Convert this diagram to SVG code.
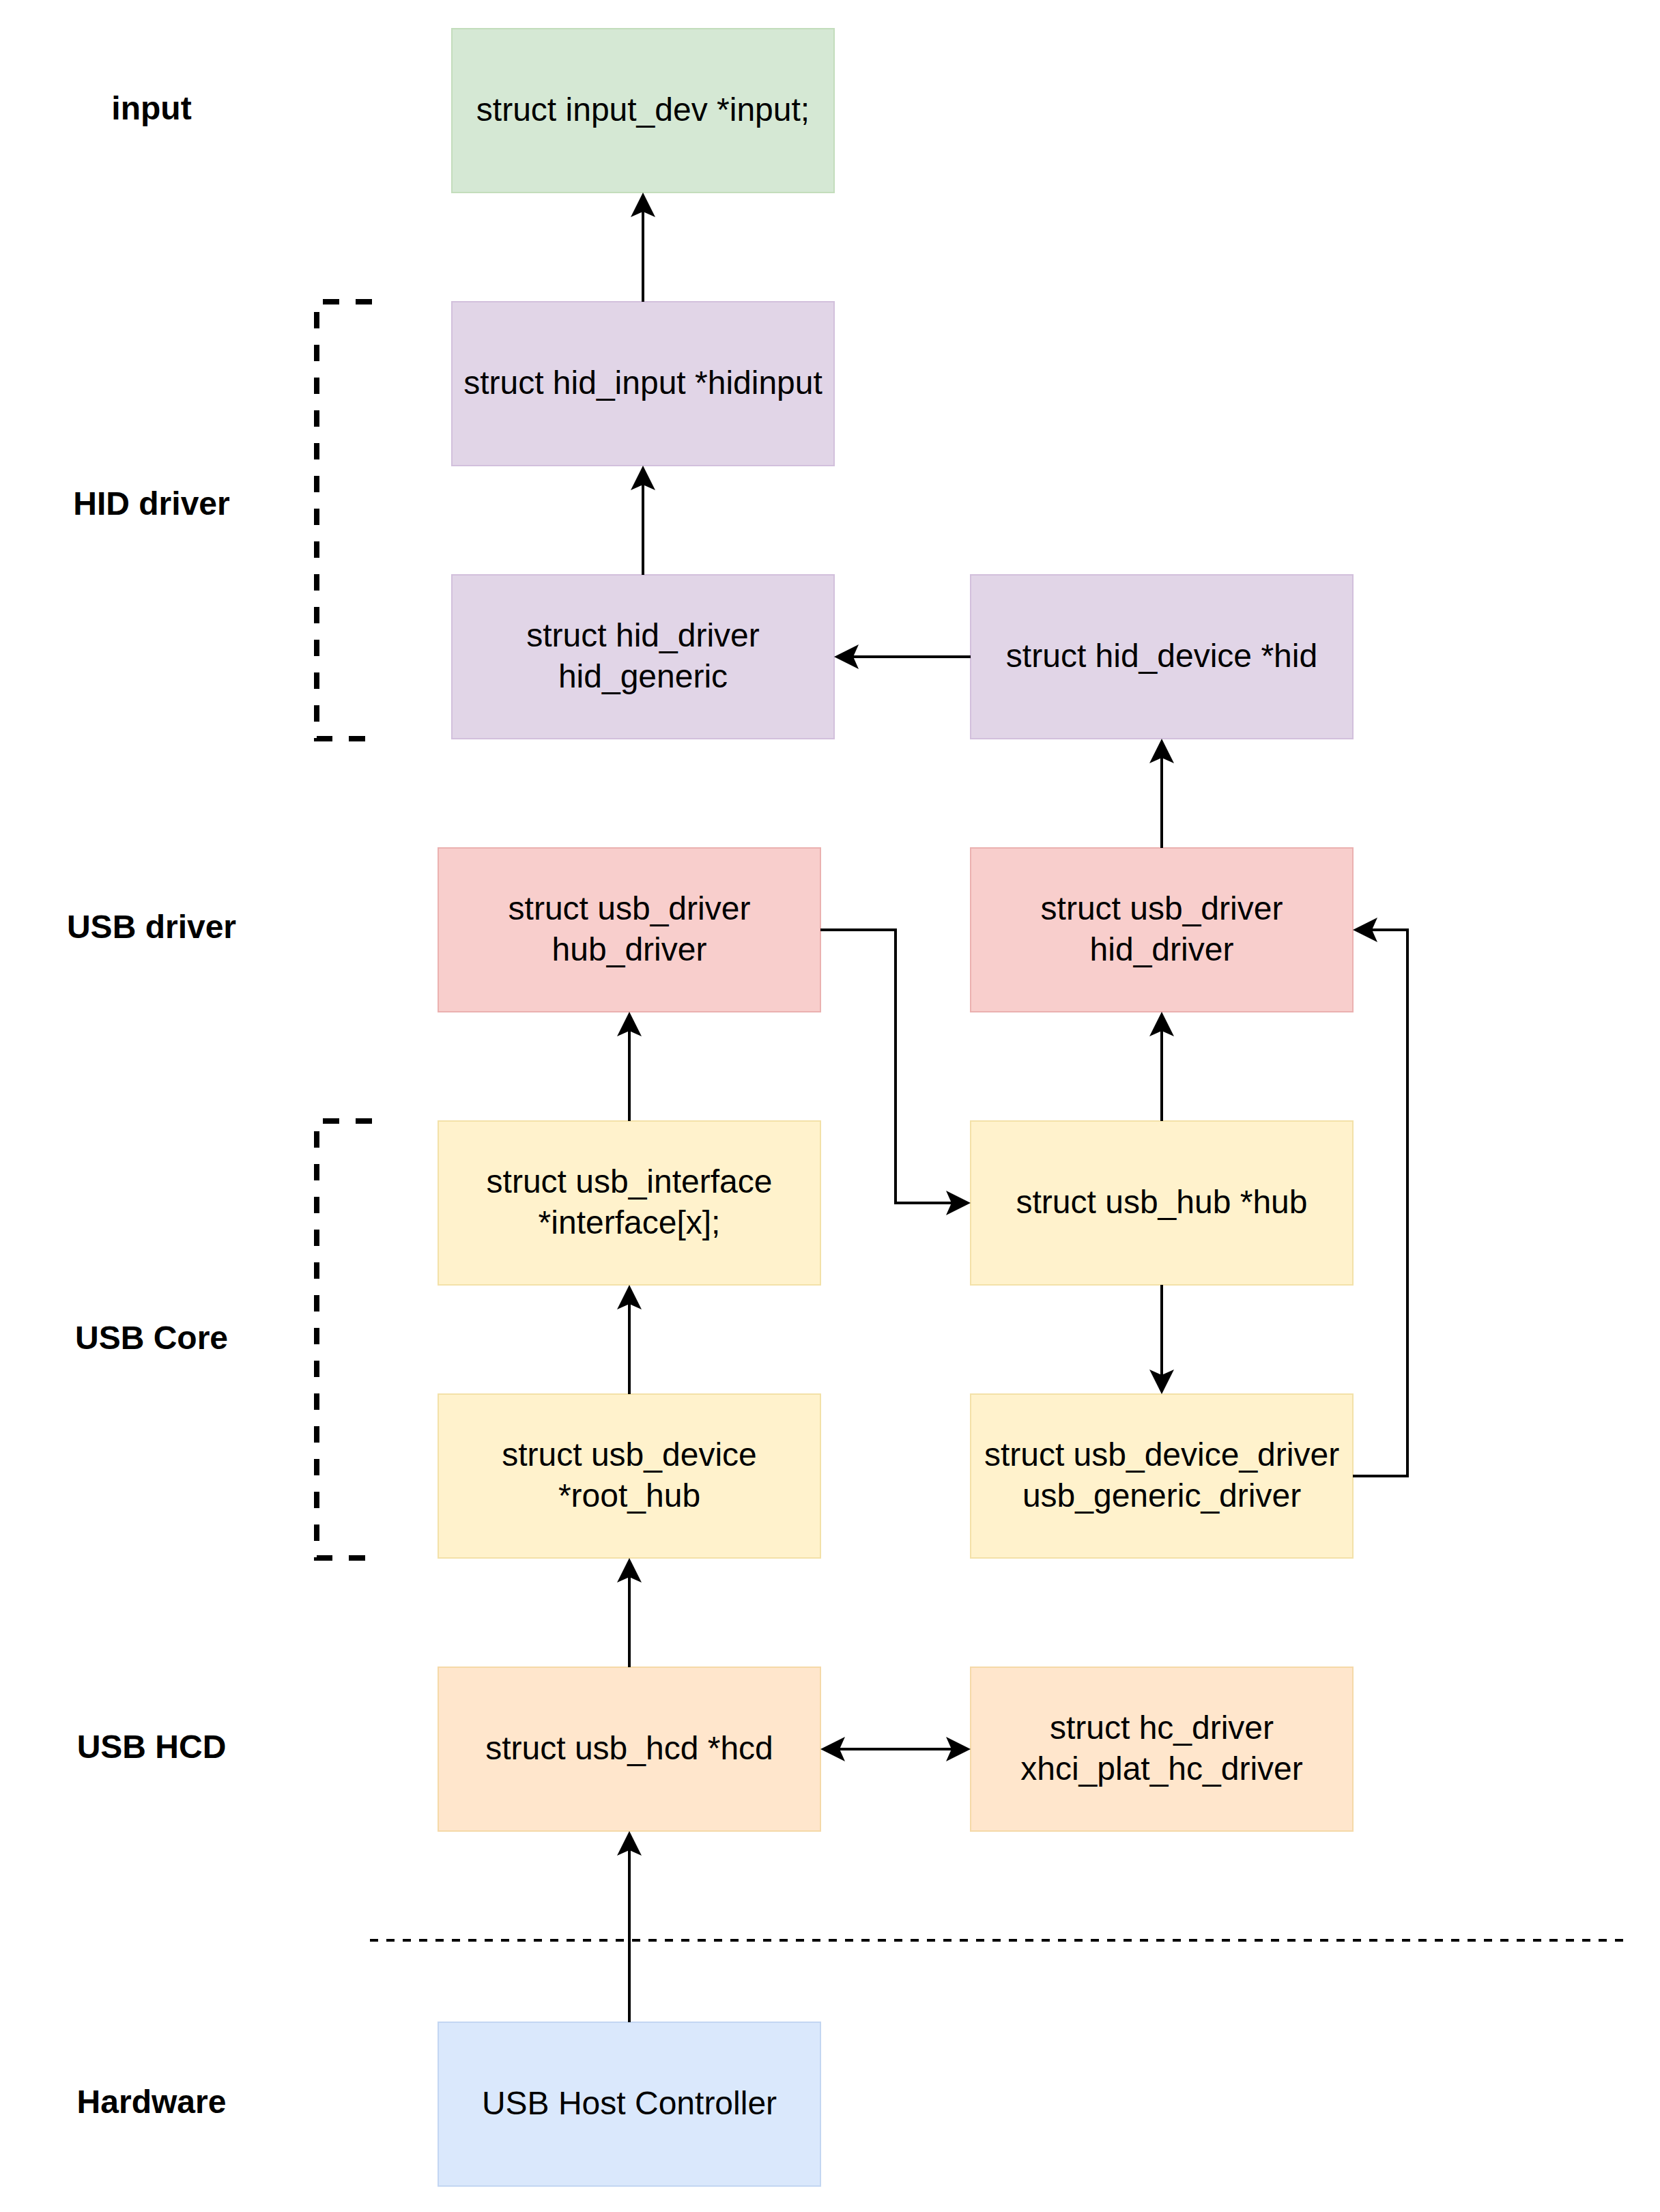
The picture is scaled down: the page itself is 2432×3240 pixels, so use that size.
<svg xmlns="http://www.w3.org/2000/svg" width="2432" height="3240" viewBox="0 0 2432 3240">
<style>
  text { font-family: "Liberation Sans", Arial, sans-serif; font-size: 48px; fill: #000; text-anchor: middle; }
  .lbl { font-weight: bold; }
  rect { stroke-width: 2; }
  .green { fill: #d5e8d4; stroke: #c3ddbc; }
  .purple { fill: #e1d5e7; stroke: #d2c0dc; }
  .red { fill: #f8cecc; stroke: #ebb1b0; }
  .yellow { fill: #fff2cc; stroke: #f3e1a8; }
  .orange { fill: #ffe6cc; stroke: #f5d9a8; }
  .blue { fill: #dae8fc; stroke: #c3d6f2; }
  .conn { fill: none; stroke: #000; stroke-width: 4; }
  .bracket { fill: none; stroke: #000; stroke-width: 8; stroke-dasharray: 24 24; }
  .sep { fill: none; stroke: #000; stroke-width: 4; stroke-dasharray: 12 12; }
</style>
<defs>
  <marker id="arrow" viewBox="0 0 36 36" refX="8" refY="18" markerWidth="36" markerHeight="36" markerUnits="userSpaceOnUse" orient="auto-start-reverse">
    <path d="M36,18 L0,0 L8,18 L0,36 Z" fill="#000"/>
  </marker>
</defs>

<g id="layer-labels">
  <text class="lbl" x="222" y="175">input</text>
  <text class="lbl" x="222" y="754">HID driver</text>
  <text class="lbl" x="222" y="1374">USB driver</text>
  <text class="lbl" x="222" y="1976">USB Core</text>
  <text class="lbl" x="222" y="2575">USB HCD</text>
  <text class="lbl" x="222" y="3095">Hardware</text>
</g>

<g id="brackets">
  <path class="bracket" d="M545,442 H464 V1082 H545"/>
  <path class="bracket" d="M545,1642 H464 V2282 H545"/>
  <path class="sep" d="M542,2842 H2384"/>
</g>

<g id="node-input-dev">
  <rect class="green" x="662" y="42" width="560" height="240"/>
  <text x="942" y="177">struct input_dev *input;</text>
</g>
<g id="node-hid-input">
  <rect class="purple" x="662" y="442" width="560" height="240"/>
  <text x="942" y="577">struct hid_input *hidinput</text>
</g>
<g id="node-hid-driver">
  <rect class="purple" x="662" y="842" width="560" height="240"/>
  <text x="942" y="947">struct hid_driver</text>
  <text x="942" y="1007">hid_generic</text>
</g>
<g id="node-hid-device">
  <rect class="purple" x="1422" y="842" width="560" height="240"/>
  <text x="1702" y="977">struct hid_device *hid</text>
</g>
<g id="node-usb-hub-driver">
  <rect class="red" x="642" y="1242" width="560" height="240"/>
  <text x="922" y="1347">struct usb_driver</text>
  <text x="922" y="1407">hub_driver</text>
</g>
<g id="node-usb-hid-driver">
  <rect class="red" x="1422" y="1242" width="560" height="240"/>
  <text x="1702" y="1347">struct usb_driver</text>
  <text x="1702" y="1407">hid_driver</text>
</g>
<g id="node-usb-interface">
  <rect class="yellow" x="642" y="1642" width="560" height="240"/>
  <text x="922" y="1747">struct usb_interface</text>
  <text x="922" y="1807">*interface[x];</text>
</g>
<g id="node-usb-hub">
  <rect class="yellow" x="1422" y="1642" width="560" height="240"/>
  <text x="1702" y="1777">struct usb_hub *hub</text>
</g>
<g id="node-usb-device">
  <rect class="yellow" x="642" y="2042" width="560" height="240"/>
  <text x="922" y="2147">struct usb_device</text>
  <text x="922" y="2207">*root_hub</text>
</g>
<g id="node-usb-device-driver">
  <rect class="yellow" x="1422" y="2042" width="560" height="240"/>
  <text x="1702" y="2147">struct usb_device_driver</text>
  <text x="1702" y="2207">usb_generic_driver</text>
</g>
<g id="node-usb-hcd">
  <rect class="orange" x="642" y="2442" width="560" height="240"/>
  <text x="922" y="2577">struct usb_hcd *hcd</text>
</g>
<g id="node-hc-driver">
  <rect class="orange" x="1422" y="2442" width="560" height="240"/>
  <text x="1702" y="2547">struct hc_driver</text>
  <text x="1702" y="2607">xhci_plat_hc_driver</text>
</g>
<g id="node-host-controller">
  <rect class="blue" x="642" y="2962" width="560" height="240"/>
  <text x="922" y="3097">USB Host Controller</text>
</g>

<g id="connectors">
  <path class="conn" d="M942,442 V310" marker-end="url(#arrow)"/>
  <path class="conn" d="M942,842 V710" marker-end="url(#arrow)"/>
  <path class="conn" d="M1422,962 H1250" marker-end="url(#arrow)"/>
  <path class="conn" d="M1702,1242 V1110" marker-end="url(#arrow)"/>
  <path class="conn" d="M922,1642 V1510" marker-end="url(#arrow)"/>
  <path class="conn" d="M1202,1362 H1312 V1762 H1394" marker-end="url(#arrow)"/>
  <path class="conn" d="M1702,1642 V1510" marker-end="url(#arrow)"/>
  <path class="conn" d="M1702,1882 V2014" marker-end="url(#arrow)"/>
  <path class="conn" d="M1982,2162 H2062 V1362 H2010" marker-end="url(#arrow)"/>
  <path class="conn" d="M922,2042 V1910" marker-end="url(#arrow)"/>
  <path class="conn" d="M922,2442 V2310" marker-end="url(#arrow)"/>
  <path class="conn" d="M1230,2562 H1394" marker-start="url(#arrow)" marker-end="url(#arrow)"/>
  <path class="conn" d="M922,2962 V2710" marker-end="url(#arrow)"/>
</g>
</svg>
